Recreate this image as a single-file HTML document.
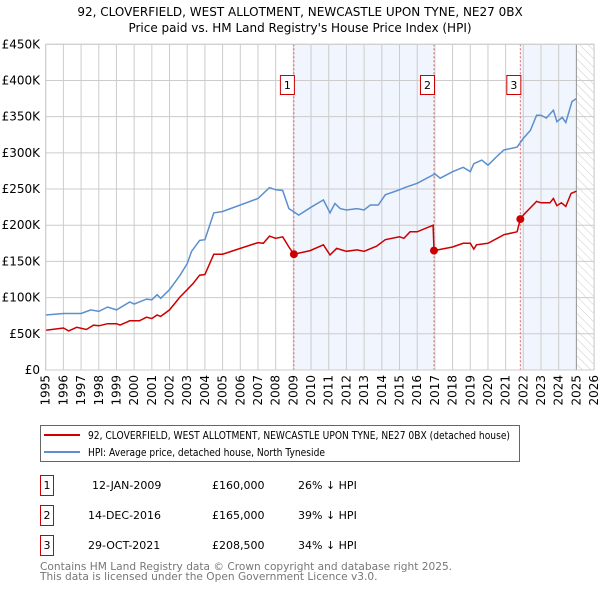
<!DOCTYPE html>
<html><head><meta charset="utf-8">
<style>
body{margin:0;background:#fff;width:600px;height:590px;overflow:hidden;font-family:"DejaVu Sans","Liberation Sans",sans-serif;}
svg text{font-family:"DejaVu Sans","Liberation Sans",sans-serif;}
</style></head>
<body>
<svg id="chart" width="600" height="590" viewBox="0 0 600 590" xmlns="http://www.w3.org/2000/svg">
<defs>
<pattern id="hatch" width="6" height="6" patternUnits="userSpaceOnUse" patternTransform="rotate(-45)">
<line x1="0" y1="0" x2="0" y2="6" stroke="#ccc" stroke-width="1"/>
</pattern>
</defs>
<text x="300" y="16" text-anchor="middle" font-size="12" fill="#000">92, CLOVERFIELD, WEST ALLOTMENT, NEWCASTLE UPON TYNE, NE27 0BX</text>
<text x="300" y="32" text-anchor="middle" font-size="12" fill="#000">Price paid vs. HM Land Registry's House Price Index (HPI)</text>
<g id="plot"></g>
<g>
<rect x="40.5" y="425.5" width="479" height="36" fill="#fff" stroke="#666"/>
<line x1="44" y1="435" x2="80" y2="435" stroke="#cc0000" stroke-width="2"/>
<text x="88" y="439" font-size="10.5" textLength="422" lengthAdjust="spacingAndGlyphs">92, CLOVERFIELD, WEST ALLOTMENT, NEWCASTLE UPON TYNE, NE27 0BX (detached house)</text>
<line x1="44" y1="452" x2="80" y2="452" stroke="#5b8fd0" stroke-width="2"/>
<text x="88" y="456" font-size="10.5" textLength="237" lengthAdjust="spacingAndGlyphs">HPI: Average price, detached house, North Tyneside</text>
</g>
<g font-size="11">
<rect x="40.5" y="475.5" width="13" height="20" fill="#fff" stroke="#cc0000"/><text x="47" y="489" text-anchor="middle">1</text>
<text x="92" y="489">12-JAN-2009</text><text x="212" y="489">£160,000</text><text x="298" y="489">26% ↓ HPI</text>
<rect x="40.5" y="505.5" width="13" height="20" fill="#fff" stroke="#cc0000"/><text x="47" y="519" text-anchor="middle">2</text>
<text x="88" y="519">14-DEC-2016</text><text x="212" y="519">£165,000</text><text x="298" y="519">39% ↓ HPI</text>
<rect x="40.5" y="535.5" width="13" height="20" fill="#fff" stroke="#cc0000"/><text x="47" y="549" text-anchor="middle">3</text>
<text x="88" y="549">29-OCT-2021</text><text x="212" y="549">£208,500</text><text x="298" y="549">34% ↓ HPI</text>
</g>
<text x="40" y="570" font-size="10.6" fill="#777">Contains HM Land Registry data © Crown copyright and database right 2025.</text>
<text x="40" y="580" font-size="10.6" fill="#777">This data is licensed under the Open Government Licence v3.0.</text>
</svg>
<script>
const yTicks = [0,50,100,150,200,250,300,350,400,450];
const yTickLabels = ["£0","£50K","£100K","£150K","£200K","£250K","£300K","£350K","£400K","£450K"];
const xYears = [1995,1996,1997,1998,1999,2000,2001,2002,2003,2004,2005,2006,2007,2008,2009,2010,2011,2012,2013,2014,2015,2016,2017,2018,2019,2020,2021,2022,2023,2024,2025,2026];
const saleLabels = ["1","2","3"];
const saleYears = [2009.03,2016.95,2021.83];
const salePrices = [160,165,208.5];
const hpiYears = [1995.0,1996.0,1997.0,1997.55,1998.0,1998.5,1999.0,1999.75,2000.0,2000.7,2001.0,2001.3,2001.5,2002.0,2002.6,2003.0,2003.25,2003.7,2004.0,2004.5,2005.0,2006.0,2007.0,2007.65,2008.0,2008.4,2008.75,2009.0,2009.3,2010.0,2010.7,2011.07,2011.35,2011.65,2012.0,2012.6,2013.0,2013.35,2013.8,2014.2,2015.0,2015.3,2016.0,2017.0,2017.3,2018.0,2018.6,2019.0,2019.2,2019.65,2020.0,2020.5,2020.9,2021.65,2022.0,2022.4,2022.75,2023.0,2023.3,2023.7,2023.9,2024.2,2024.4,2024.75,2025.0];
const hpiValues = [76,78,78,83,81,87,83,94,91,98,97,104,99,111,131,147,164,179,180,217,219,228,237,252,249,248,223,219,214,225,235,217,230,223,221,223,221,228,228,242,249,252,258,271,265,274,280,274,285,290,283,295,304,308,320,331,352,352,348,359,343,349,342,371,375];
const priceYears = [1995.0,1996.0,1996.3,1996.75,1997.3,1997.7,1998.0,1998.5,1999.0,1999.2,1999.75,2000.3,2000.7,2001.0,2001.3,2001.5,2002.0,2002.6,2003.0,2003.35,2003.7,2004.0,2004.5,2005.0,2006.0,2007.0,2007.3,2007.65,2008.0,2008.4,2008.75,2009.03,2009.95,2010.7,2011.07,2011.45,2012.0,2012.6,2013.0,2013.7,2014.2,2015.0,2015.25,2015.6,2016.0,2016.9,2016.95,2018.0,2018.6,2019.0,2019.2,2019.35,2020.0,2020.9,2021.65,2021.83,2022.0,2022.75,2023.0,2023.5,2023.7,2023.9,2024.15,2024.4,2024.7,2025.0];
const priceValues = [55,58,54,59,56,62,61,64,64,62,68,68,73,71,76,74,83,101,111,120,131,132,160,160,168,176,175,185,182,184,170,160,165,173,159,168,164,166,164,171,180,184,182,191,191,200,165,170,175,175,167,173,175,187,191,208.5,214,233,231,231,237,227,231,226,244,247];

const X0=45.7, PXY=17.69, Y0=370, PXK=325.7/450;
const xs = y => X0 + (y-1995)*PXY;
const ys = v => Y0 - v*PXK;
const NS="http://www.w3.org/2000/svg";
const plot=document.getElementById('plot');
function mk(tag,attrs,parent){const e=document.createElementNS(NS,tag);for(const k in attrs)e.setAttribute(k,attrs[k]);(parent||plot).appendChild(e);return e;}
const xL=xs(1995), xR=xs(2026), yT=ys(450), yB=ys(0);
const dataEnd=2025.0;
let r=mk('rect',{x:xs(saleYears[0]),y:yT,width:xs(saleYears[1])-xs(saleYears[0]),height:yB-yT,fill:'#f1f5fd'});


r=mk('rect',{x:xs(saleYears[2]),y:yT,width:xs(dataEnd)-xs(saleYears[2]),height:yB-yT,fill:'#f1f5fd'});


r=mk('rect',{x:xs(dataEnd),y:yT,width:xR-xs(dataEnd),height:yB-yT,fill:'url(#hatch)'});


yTicks.forEach((v,i)=>{
  const l=mk('line',{x1:xL,x2:xR,y1:ys(v),y2:ys(v),stroke:'#ccc','stroke-width':1});
  
  
  const t=mk('text',{x:40,y:ys(v)+4,'text-anchor':'end','font-size':12,fill:'#000'});
  t.textContent=yTickLabels[i];
  
  
});
xYears.forEach(yr=>{
  const l=mk('line',{x1:xs(yr),x2:xs(yr),y1:yT,y2:yB,stroke:'#ccc','stroke-width':1});
  
  
  const t=mk('text',{x:0,y:0,'text-anchor':'end','font-size':12,fill:'#000',transform:`translate(${xs(yr)+4},375) rotate(-90)`});
  t.textContent=yr;
  
  
});
const endLine=mk('line',{x1:xs(dataEnd),x2:xs(dataEnd),y1:yT,y2:yB,stroke:'#999','stroke-width':1});


saleYears.forEach((yr,i)=>{
  const l=mk('line',{x1:xs(yr),x2:xs(yr),y1:yT,y2:yB,stroke:'#e06666','stroke-width':1,'stroke-dasharray':'2,2'});
  
  
  const b=mk('rect',{x:xs(yr)-13.5,y:75.5,width:14,height:19,fill:'#fff',stroke:'#cc0000'});
  
  
  const t=mk('text',{x:xs(yr)-6.5,y:89,'text-anchor':'middle','font-size':11});
  t.textContent=saleLabels[i];
  
  
});
const hp=mk('path',{d:hpiYears.map((y,i)=>(i?'L':'M')+xs(y).toFixed(1)+','+ys(hpiValues[i]).toFixed(1)).join(''),fill:'none',stroke:'#5b8fd0','stroke-width':1.5});


const pp=mk('path',{d:priceYears.map((y,i)=>(i?'L':'M')+xs(y).toFixed(1)+','+ys(priceValues[i]).toFixed(1)).join(''),fill:'none',stroke:'#cc0000','stroke-width':1.5});


saleYears.forEach((yr,i)=>{
  const c=mk('circle',{cx:xs(yr),cy:ys(salePrices[i]),r:4,fill:'#cc0000'});
  
  
});
const frame=mk('rect',{x:xL,y:yT,width:xR-xL,height:yB-yT,fill:'none',stroke:'#ccc'});


</script>
</body></html>
